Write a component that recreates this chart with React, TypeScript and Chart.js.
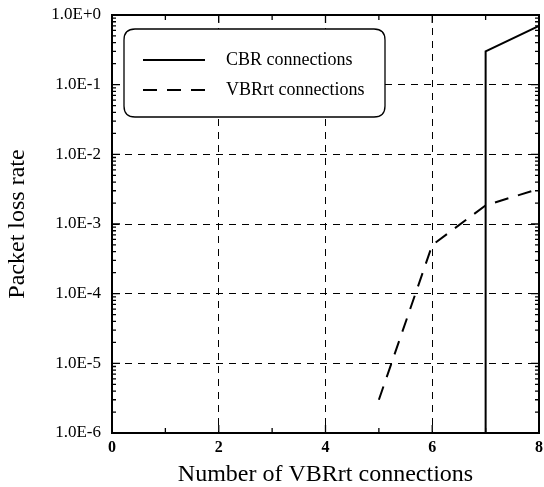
import React, { useEffect, useRef } from "react";
import { Chart, registerables } from "chart.js";

Chart.register(...registerables);

const cbrX = [7, 7, 8];
const cbrY = [1e-6, 0.3, 0.7];
const vbrX = [5, 6, 7, 8];
const vbrY = [3e-6, 5e-4, 1.85e-3, 3.2e-3];
const yDecades = [1e-6, 1e-5, 1e-4, 1e-3, 1e-2, 1e-1, 1];
const xTicks = [0, 2, 4, 6, 8];
const seriesLabels = ["CBR connections", "VBRrt connections"];

const SERIF = "'Liberation Serif', 'DejaVu Serif', serif";

const framePlugin = {
  id: "frameAndLegend",
  afterDraw(chart: any) {
    const { ctx, chartArea } = chart;
    const { left, right, top, bottom } = chartArea;
    const xs = chart.scales.x;
    const ys = chart.scales.y;
    ctx.save();
    ctx.strokeStyle = "#000";
    ctx.setLineDash([]);
    ctx.lineWidth = 1.3;
    for (let d = -6; d <= 0; d++) {
      const base = Math.pow(10, d);
      const yp = ys.getPixelForValue(base);
      ctx.beginPath();
      ctx.moveTo(left, yp); ctx.lineTo(left + 8, yp);
      ctx.moveTo(right, yp); ctx.lineTo(right - 8, yp);
      ctx.stroke();
      if (d < 0) {
        for (let k = 2; k <= 9; k++) {
          const p = ys.getPixelForValue(k * base);
          ctx.beginPath();
          ctx.moveTo(left, p); ctx.lineTo(left + 4, p);
          ctx.moveTo(right, p); ctx.lineTo(right - 4, p);
          ctx.stroke();
        }
      }
    }
    for (let v = 0; v <= 8; v++) {
      const xp = xs.getPixelForValue(v);
      const len = v % 2 === 0 ? 8 : 5;
      ctx.beginPath();
      ctx.moveTo(xp, bottom); ctx.lineTo(xp, bottom - len);
      ctx.moveTo(xp, top); ctx.lineTo(xp, top + len);
      ctx.stroke();
    }
    ctx.lineWidth = 2;
    ctx.strokeRect(left, top, right - left, bottom - top);

    const bx = 124, by = 29, bw = 261, bh = 88, r = 11;
    ctx.fillStyle = "#fff";
    ctx.lineWidth = 1.3;
    ctx.beginPath();
    ctx.moveTo(bx + r, by);
    ctx.lineTo(bx + bw - r, by);
    ctx.quadraticCurveTo(bx + bw, by, bx + bw, by + r);
    ctx.lineTo(bx + bw, by + bh - r);
    ctx.quadraticCurveTo(bx + bw, by + bh, bx + bw - r, by + bh);
    ctx.lineTo(bx + r, by + bh);
    ctx.quadraticCurveTo(bx, by + bh, bx, by + bh - r);
    ctx.lineTo(bx, by + r);
    ctx.quadraticCurveTo(bx, by, bx + r, by);
    ctx.closePath();
    ctx.fill();
    ctx.stroke();

    const rows = [60, 90];
    chart.data.datasets.forEach((ds: any, i: number) => {
      const y = rows[i];
      ctx.lineWidth = 2;
      ctx.setLineDash(ds.borderDash || []);
      ctx.beginPath();
      ctx.moveTo(143, y);
      ctx.lineTo(205, y);
      ctx.stroke();
      ctx.setLineDash([]);
      ctx.fillStyle = "#000";
      ctx.font = `18px ${SERIF}`;
      ctx.textBaseline = "middle";
      ctx.textAlign = "left";
      ctx.fillText(ds.label, 226, y);
    });
    ctx.restore();
  },
};

export default function App() {
  const ref = useRef<HTMLCanvasElement>(null);
  useEffect(() => {
    document.body.style.margin = "0";
    const canvas = ref.current!;
    const chart = new Chart(canvas, {
      type: "line",
      data: {
        datasets: [
          {
            label: seriesLabels[0],
            data: cbrX.map((x, i) => ({ x, y: cbrY[i] })),
            borderColor: "#000",
            borderWidth: 2,
            pointRadius: 0,
            fill: false,
          },
          {
            label: seriesLabels[1],
            data: vbrX.map((x, i) => ({ x, y: vbrY[i] })),
            borderColor: "#000",
            borderWidth: 2,
            borderDash: [14, 10],
            pointRadius: 0,
            fill: false,
          },
        ],
      },
      options: {
        animation: false,
        responsive: false,
        maintainAspectRatio: false,
        layout: { padding: { top: 15, right: 5, left: 0, bottom: 0 } },
        plugins: { legend: { display: false }, tooltip: { enabled: false } },
        scales: {
          x: {
            type: "linear",
            min: 0,
            max: 8,
            afterBuildTicks: (s: any) => {
              s.ticks = xTicks.map((v) => ({ value: v }));
            },
            afterFit: (s: any) => {
              s.height = 54;
              s.paddingLeft = 0;
              s.paddingRight = 0;
            },
            grid: {
              color: (c: any) =>
                c.tick && (c.tick.value === 0 || c.tick.value === 8) ? "rgba(0,0,0,0)" : "#000",
              lineWidth: 1,
              drawTicks: false,
            },
            border: { display: false, dash: [7, 6] },
            ticks: {
              color: "#000",
              font: { family: SERIF, size: 16, weight: "bold" },
              padding: 5,
              maxRotation: 0,
              callback: (v: any) => String(v),
            },
            title: {
              display: true,
              text: "Number of VBRrt connections",
              color: "#000",
              font: { family: SERIF, size: 24 },
              padding: { top: 0, bottom: -2 },
            },
          },
          y: {
            type: "logarithmic",
            min: 1e-6,
            max: 1,
            afterBuildTicks: (s: any) => {
              s.ticks = yDecades.map((v) => ({ value: v }));
            },
            afterFit: (s: any) => {
              s.width = 112;
              s.paddingTop = 0;
              s.paddingBottom = 0;
            },
            grid: {
              color: (c: any) =>
                c.tick && (c.tick.value === 1 || c.tick.value === 1e-6) ? "rgba(0,0,0,0)" : "#000",
              lineWidth: 1,
              drawTicks: false,
            },
            border: { display: false, dash: [7, 6] },
            ticks: {
              color: "#000",
              font: { family: SERIF, size: 17 },
              padding: 11,
              callback: (v: any) => Number(v).toExponential(1).toUpperCase(),
            },
            title: {
              display: true,
              text: "Packet loss rate",
              color: "#000",
              font: { family: SERIF, size: 24 },
              padding: { top: 3, bottom: 0 },
            },
          },
        },
      },
      plugins: [framePlugin],
    });
    return () => chart.destroy();
  }, []);
  return (
    <div style={{ width: 544, height: 487, background: "#fff" }}>
      <canvas ref={ref} width={544} height={487} style={{ display: "block" }} />
    </div>
  );
}
